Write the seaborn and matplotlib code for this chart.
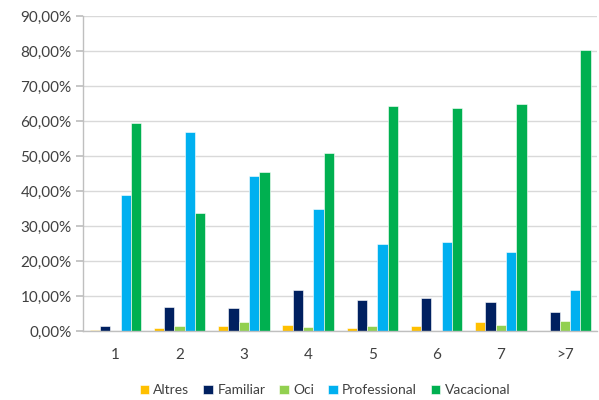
import numpy as np
import matplotlib
matplotlib.use('Agg')
import matplotlib.pyplot as plt
import matplotlib.ticker as mticker
import pandas as pd
import seaborn as sns

# data
categories = ['1', '2', '3', '4', '5', '6', '7', '>7']
altres = [0.3, 1.0, 1.3, 1.6, 0.8, 1.3, 2.6, 0.0]
familiar = [1.3, 7.0, 6.7, 11.8, 9.0, 9.4, 8.4, 5.5]
oci = [0.0, 1.3, 2.5, 1.2, 1.3, 0.0, 1.8, 2.8]
professional = [39.0, 57.0, 44.3, 34.8, 24.8, 25.5, 22.6, 11.6]
vacacional = [59.5, 33.8, 45.3, 51.0, 64.2, 63.8, 65.0, 80.3]
series = ['Altres', 'Familiar', 'Oci', 'Professional', 'Vacacional']
colors = ['#FFC000', '#002060', '#92D050', '#00B0F0', '#00B050']

rows = []
for name, vals in zip(series, [altres, familiar, oci, professional, vacacional]):
    for c, v in zip(categories, vals):
        rows.append({'cat': c, 'serie': name, 'val': v})
df = pd.DataFrame(rows)

sns.set_theme(style='white')
plt.rcParams['font.family'] = ['Lato', 'DejaVu Sans']

fig = plt.figure(figsize=(5.99, 4), dpi=100)
ax = fig.add_axes([0.139, 0.1725, 0.858, 0.7875])
sns.barplot(data=df, x='cat', y='val', hue='serie', order=categories, hue_order=series,
            palette=colors, width=0.8, ax=ax, edgecolor='white', linewidth=0.4, saturation=1)

ax.set_ylim(0, 90)
ax.set_xlim(-0.5, len(categories) - 0.5)
ax.yaxis.set_major_locator(mticker.MultipleLocator(10))
ax.yaxis.set_major_formatter(mticker.FuncFormatter(lambda v, p: f'{v:.2f}%'.replace('.', ',')))
ax.grid(axis='y', color='#d9d9d9', linewidth=1)
ax.set_axisbelow(True)
ax.set_xlabel('')
ax.set_ylabel('')
for s in ['top', 'right']:
    ax.spines[s].set_visible(False)
for s in ['left', 'bottom']:
    ax.spines[s].set_color('#bfbfbf')
    ax.spines[s].set_linewidth(1)
ax.set_xticks(np.arange(-0.5, len(categories), 1), minor=True)
ax.tick_params(axis='x', which='major', length=0, pad=12, labelsize=11, labelcolor='#404040')
ax.tick_params(axis='x', which='minor', length=5, color='#bfbfbf', direction='out')
ax.tick_params(axis='y', length=5, color='#bfbfbf', direction='out', labelsize=11, labelcolor='#404040', left=True)

ax.legend(loc='upper center', bbox_to_anchor=(0.47, -0.13), ncol=5, frameon=False,
          handlelength=0.7, handleheight=0.7, handletextpad=0.3, columnspacing=1.0,
          fontsize=10, labelcolor='#404040')

fig.savefig('out.png', dpi=100)
